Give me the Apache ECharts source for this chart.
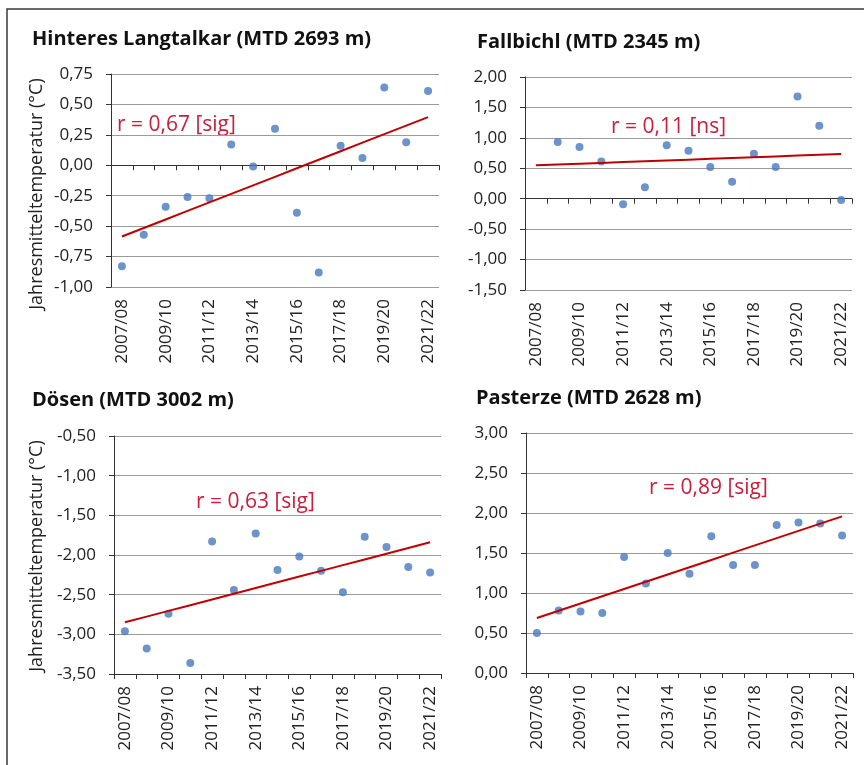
<!DOCTYPE html>
<html>
<head>
<meta charset="utf-8">
<script src="https://cdn.jsdelivr.net/npm/echarts@6/dist/echarts.min.js"></script>
<style>
  html, body { margin: 0; padding: 0; background: #ffffff; }
  #chart { width: 864px; height: 765px; }
</style>
</head>
<body>
<div id="chart"></div>
<script>
// Hydrologic years on the category axis
const seasons = ['2007/08', '2008/09', '2009/10', '2010/11', '2011/12', '2012/13', '2013/14',
  '2014/15', '2015/16', '2016/17', '2017/18', '2018/19', '2019/20', '2020/21', '2021/22'];

// Mean annual temperature (°C) per station
const langtalkar = [-0.83, -0.57, -0.34, -0.26, -0.27, 0.17, -0.01, 0.30, -0.39, -0.88, 0.16, 0.06, 0.64, 0.19, 0.61];
const fallbichl  = [null, 0.93, 0.85, 0.61, -0.09, 0.19, 0.88, 0.79, 0.52, 0.28, 0.74, 0.52, 1.68, 1.20, -0.02];
const doesen     = [-2.96, -3.18, -2.74, -3.36, -1.83, -2.44, -1.73, -2.19, -2.02, -2.20, -2.47, -1.77, -1.90, -2.15, -2.22];
const pasterze   = [0.50, 0.78, 0.77, 0.75, 1.45, 1.12, 1.50, 1.24, 1.71, 1.35, 1.35, 1.85, 1.88, 1.87, 1.72];

// Panel titles and correlation notes
const titles = ['Hinteres Langtalkar (MTD 2693 m)', 'Fallbichl (MTD 2345 m)', 'Dösen (MTD 3002 m)', 'Pasterze (MTD 2628 m)'];
const rNotes = ['r = 0,67 [sig]', 'r = 0,11 [ns]', 'r = 0,63 [sig]', 'r = 0,89 [sig]'];

// Y axis ranges: [min, max, interval]
const yRanges = [[-1.0, 0.75, 0.25], [-1.5, 2.0, 0.5], [-3.5, -0.5, 0.5], [0.0, 3.0, 0.5]];

const yName = 'Jahresmitteltemperatur (°C)';

const FONT = 'Open Sans';
const BLUE = '#4878BE';
const RED = '#C00000';
const RED_TEXT = '#C8203C';

// Least-squares trend evaluated at every category index
function trend(values) {
  const pts = values.map((v, i) => [i, v]).filter(p => p[1] !== null);
  const n = pts.length;
  const mx = pts.reduce((s, p) => s + p[0], 0) / n;
  const my = pts.reduce((s, p) => s + p[1], 0) / n;
  let sxy = 0, sxx = 0;
  pts.forEach(p => { sxy += (p[0] - mx) * (p[1] - my); sxx += (p[0] - mx) * (p[0] - mx); });
  const b = sxy / sxx;
  return values.map((_, i) => +(my + b * (i - mx)).toFixed(4));
}

const series = [langtalkar, fallbichl, doesen, pasterze];

const grids = [
  { left: 111, top: 74, width: 328, height: 213 },
  { left: 525, top: 77, width: 327, height: 213 },
  { left: 114, top: 436, width: 327, height: 238 },
  { left: 526, top: 433, width: 327, height: 240 }
];

const fmt = v => v.toFixed(2).replace('.', ',').replace(/^-0,00$/, '0,00');

const titleFont = 'bold 20px "Open Sans"';
const noteFont = '21px "Open Sans"';
const nameFont = '18px "Open Sans"';

const option = {
  animation: false,
  backgroundColor: '#ffffff',
  textStyle: { fontFamily: FONT },
  grid: grids,
  xAxis: grids.map((g, k) => ({
    type: 'category',
    gridIndex: k,
    data: seasons,
    boundaryGap: true,
    axisLine: { show: true, lineStyle: { color: '#333', width: 1 } },
    axisTick: { show: true, interval: 0, length: 5, lineStyle: { color: '#333' } },
    axisLabel: { interval: 1, rotate: 90, margin: 12, fontSize: 17, color: '#222', fontFamily: FONT },
    splitLine: { show: false }
  })),
  yAxis: yRanges.map((r, k) => ({
    type: 'value',
    gridIndex: k,
    min: r[0], max: r[1], interval: r[2],
    axisLine: { show: true, lineStyle: { color: '#333', width: 1 } },
    axisTick: { show: true, length: 5, lineStyle: { color: '#333' } },
    axisLabel: { formatter: fmt, fontSize: 17, margin: 18, color: '#222', fontFamily: FONT },
    splitLine: { show: true, lineStyle: { color: '#9a9a9a', width: 1 } }
  })),
  series: [].concat(...series.map((vals, k) => ([
    {
      type: 'scatter',
      xAxisIndex: k, yAxisIndex: k,
      data: vals.map(v => v === null ? '-' : v),
      symbolSize: 8,
      itemStyle: { color: BLUE },
      z: 3
    },
    {
      type: 'line',
      xAxisIndex: k, yAxisIndex: k,
      data: trend(vals),
      symbol: 'none',
      lineStyle: { color: RED, width: 2 },
      z: 4
    }
  ]))),
  graphic: [
    { type: 'polyline', shape: { points: [[7, 765], [7, 9], [864, 9]] },
      style: { stroke: '#3a3a3a', lineWidth: 1.5, fill: null } },
    { type: 'text', x: 32, y: 39, style: { text: titles[0], font: titleFont, fill: '#111', verticalAlign: 'middle' } },
    { type: 'text', x: 477, y: 42, style: { text: titles[1], font: titleFont, fill: '#111', verticalAlign: 'middle' } },
    { type: 'text', x: 32, y: 400, style: { text: titles[2], font: titleFont, fill: '#111', verticalAlign: 'middle' } },
    { type: 'text', x: 476, y: 398, style: { text: titles[3], font: titleFont, fill: '#111', verticalAlign: 'middle' } },
    { type: 'text', x: 117, y: 125, style: { text: rNotes[0], font: noteFont, fill: RED_TEXT, verticalAlign: 'middle' } },
    { type: 'text', x: 611, y: 127, style: { text: rNotes[1], font: noteFont, fill: RED_TEXT, verticalAlign: 'middle' } },
    { type: 'text', x: 196, y: 502, style: { text: rNotes[2], font: noteFont, fill: RED_TEXT, verticalAlign: 'middle' } },
    { type: 'text', x: 649, y: 488, style: { text: rNotes[3], font: noteFont, fill: RED_TEXT, verticalAlign: 'middle' } },
    { type: 'text', x: 37, y: 194, rotation: Math.PI / 2,
      style: { text: yName, font: nameFont, fill: '#222', align: 'center', verticalAlign: 'middle' } },
    { type: 'text', x: 37, y: 556, rotation: Math.PI / 2,
      style: { text: yName, font: nameFont, fill: '#222', align: 'center', verticalAlign: 'middle' } }
  ]
};

const chart = echarts.init(document.getElementById('chart'), null, { renderer: 'canvas' });
chart.setOption(option);
</script>
</body>
</html>
